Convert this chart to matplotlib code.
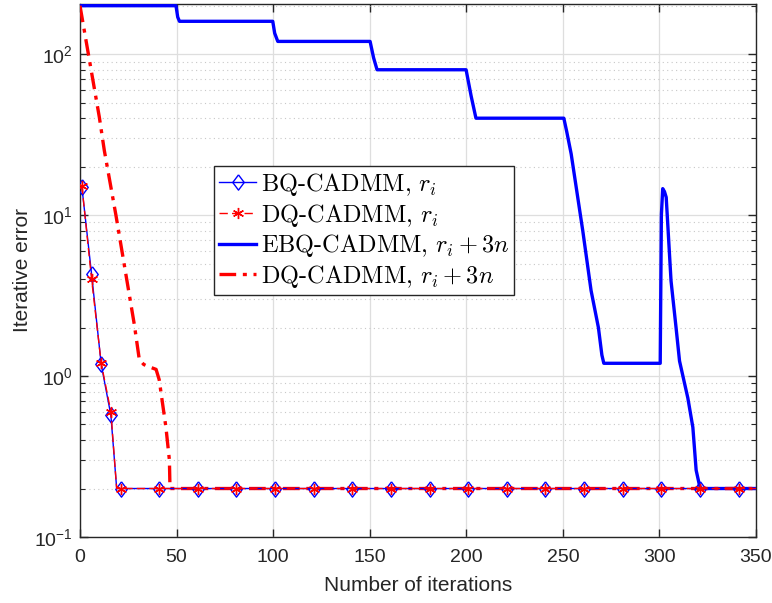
import numpy as np
import matplotlib
matplotlib.use("Agg")
import matplotlib.pyplot as plt
from matplotlib.font_manager import FontProperties

plt.rcParams['font.family'] = ['Liberation Sans', 'DejaVu Sans']
plt.rcParams['mathtext.fontset'] = 'custom'
plt.rcParams['mathtext.rm'] = 'Liberation Sans'
plt.rcParams['mathtext.it'] = 'Liberation Sans:italic'

# iteration at which each marker is drawn (same for both r_i curves)
marker_iters = [1, 6, 11, 16, 21, 41, 61, 81, 101, 121, 141, 161, 181,
                201, 221, 241, 261, 281, 301, 321, 341]

# BQ-CADMM, r_i
bq_iter = [1, 6, 11, 16, 19, 21, 41, 61, 81, 101, 121, 141, 161, 181,
           201, 221, 241, 261, 281, 301, 321, 341, 350]
bq_err = [14.9, 4.3, 1.18, 0.57, 0.2, 0.2, 0.2, 0.2, 0.2, 0.2, 0.2, 0.2,
          0.2, 0.2, 0.2, 0.2, 0.2, 0.2, 0.2, 0.2, 0.2, 0.2, 0.2]

# DQ-CADMM, r_i
dq_iter = [1, 6, 11, 16, 19, 21, 41, 61, 81, 101, 121, 141, 161, 181,
           201, 221, 241, 261, 281, 301, 321, 341, 350]
dq_err = [15.2, 4.0, 1.2, 0.6, 0.2, 0.2, 0.2, 0.2, 0.2, 0.2, 0.2, 0.2,
          0.2, 0.2, 0.2, 0.2, 0.2, 0.2, 0.2, 0.2, 0.2, 0.2, 0.2]

# EBQ-CADMM, r_i + 3n
ebq_iter = [0, 49.7, 50.6, 51.5, 99.8, 100.8, 102.4, 150.2, 152, 153.8,
            199.9, 202.5, 205, 250.5, 252, 254.3, 260.3, 264.6, 268.4,
            270.2, 271.2, 300.4, 301.0, 301.7, 302.6, 303.5, 306, 308.6,
            310.4, 314.7, 317.3, 319, 320.7, 321.5, 350]
ebq_err = [200, 200, 170, 160, 160, 135, 120, 120, 95, 80,
           80, 55, 40, 40, 33, 24, 8.0, 3.4, 2.0,
           1.35, 1.2, 1.2, 10, 14.6, 14.0, 12.9, 3.9, 2.0,
           1.24, 0.73, 0.48, 0.26, 0.21, 0.2, 0.2]

# DQ-CADMM, r_i + 3n
dq3_iter = [0, 10, 12.6, 18.6, 28.1, 30.7, 33, 35, 39.4, 41, 44.5, 46.3, 46.6, 350]
dq3_err = [200, 40.7, 25.2, 10, 2.1, 1.27, 1.18, 1.15, 1.1, 0.95, 0.48, 0.3, 0.2, 0.2]

bq_marks = [bq_iter.index(i) for i in marker_iters]
dq_marks = [dq_iter.index(i) for i in marker_iters]

diamond = [(0, 1), (0.75, 0), (0, -1), (-0.75, 0), (0, 1)]

fig = plt.figure(figsize=(7.72, 6.03), dpi=100)
ax = fig.add_axes([0.1036, 0.1095, 0.8757, 0.8839])

ax.plot(bq_iter, bq_err, color='blue', lw=1.0, marker=diamond, ms=11,
        mfc='none', mec='blue', mew=1.0, markevery=bq_marks,
        label=r'BQ-CADMM, $r_i$', zorder=4)
ax.plot(dq_iter, dq_err, color='red', lw=1.0, ls=(0, (6, 3)), marker=(6, 2, 0),
        ms=8, mec='red', mew=1.0, markevery=dq_marks,
        label=r'DQ-CADMM, $r_i$', zorder=5)
ax.plot(ebq_iter, ebq_err, color='blue', lw=2.4,
        label=r'EBQ-CADMM, $r_i+3n$', zorder=3)
ax.plot(dq3_iter, dq3_err, color='red', lw=2.4, ls=(0, (5, 2, 1.2, 2)),
        label=r'DQ-CADMM, $r_i+3n$', zorder=3)

ax.set_yscale('log')
ax.set_xlim(0, 350)
ax.set_ylim(0.1, 205)
ax.set_xticks(np.arange(0, 351, 50))

tc = '#262626'
ax.grid(True, which='major', color='#dedede', lw=0.9, ls='-')
ax.grid(True, which='minor', axis='y', color='#c8c8c8', lw=0.8, ls=(0, (1, 3)))
ax.set_axisbelow(True)
ax.tick_params(which='both', direction='in', top=True, right=True,
               colors=tc, labelsize=14)
ax.tick_params(which='major', length=6, width=1.0)
ax.tick_params(which='minor', length=3.5, width=0.8)
ax.tick_params(axis='x', pad=9)
ax.tick_params(axis='y', pad=5)
for s in ax.spines.values():
    s.set_color(tc)
    s.set_linewidth(1.0)

ax.set_xlabel('Number of iterations', fontsize=15, color=tc, labelpad=7)
ax.set_ylabel('Iterative error', fontsize=15, color=tc, labelpad=2)

leg_font = FontProperties(family='cmr10', size=17.5, math_fontfamily='cm')
leg = ax.legend(loc='upper left', bbox_to_anchor=(0.198, 0.696),
                borderaxespad=0, prop=leg_font, fancybox=False, framealpha=1,
                edgecolor='#262626', handlelength=1.55, handletextpad=0.2,
                labelspacing=0.15, borderpad=0.2, numpoints=1)
leg.get_frame().set_linewidth(1.0)

fig.savefig('out.png', dpi=100)
